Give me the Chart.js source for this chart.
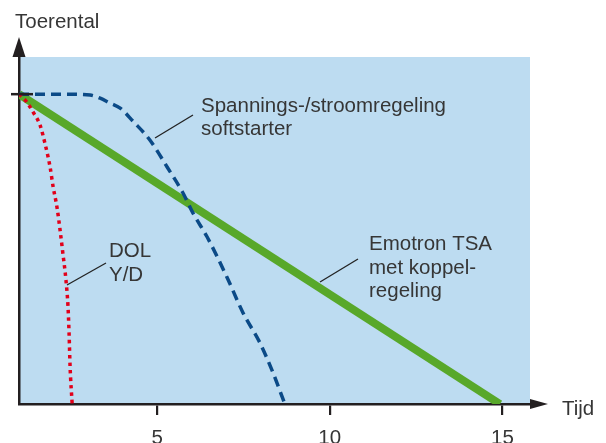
<!DOCTYPE html>
<html>
<head>
<meta charset="utf-8">
<script src="https://cdn.jsdelivr.net/npm/chart.js@4"></script>
<style>
  html, body { margin: 0; padding: 0; background: #ffffff; }
  #c { display: block; }
</style>
</head>
<body>
<canvas id="c" width="606" height="443"></canvas>
<script>
// ---- data (x = tijd, y = toerental in % of start value) ----
const xTicks = [5, 10, 15];
const yStartTick = 100;

const dolX = [1, 1.03, 1.23, 1.41, 1.61, 1.75, 1.9, 1.99, 2.1, 2.19, 2.27, 2.36, 2.42, 2.45, 2.48, 2.54];
const dolY = [100, 99.7, 97.4, 94.2, 90.0, 84.2, 76.5, 70.0, 63.5, 56.1, 48.7, 40.0, 31.3, 22.9, 11.9, 0];

const softX = [1, 2.19, 3.06, 3.35, 3.64, 3.93, 4.3, 4.79, 5.29, 5.75, 6.04, 6.45, 7.02, 7.49, 7.98, 8.36, 8.7];
const softY = [100, 100, 99.7, 98.7, 97.1, 95.5, 91.3, 85.2, 76.5, 68.1, 61.6, 53.9, 41.0, 29.4, 19.7, 10.0, 0];

const tsaX = [1, 14.93];
const tsaY = [100, 0];

const labels = {
  yTitle: 'Toerental',
  xTitle: 'Tijd',
  soft: ['Spannings-/stroomregeling', 'softstarter'],
  dol: ['DOL', 'Y/D'],
  tsa: ['Emotron TSA', 'met koppel-', 'regeling']
};

const pts = (xs, ys) => xs.map((x, i) => ({ x: x, y: ys[i] }));

const FONT = '20.5px "Liberation Sans", Arial, sans-serif';
const TEXT = '#363636';
const AXIS = '#231f20';
const BG = '#bddcf1';

const decor = {
  id: 'decor',
  beforeDraw(chart) {
    const a = chart.chartArea, ctx = chart.ctx;
    ctx.save();
    ctx.fillStyle = BG;
    ctx.fillRect(a.left, a.top, a.right - a.left, a.bottom - a.top);
    ctx.restore();
  },
  afterDraw(chart) {
    const a = chart.chartArea, ctx = chart.ctx;
    const ys = chart.scales.y;
    ctx.save();
    // arrows
    ctx.fillStyle = AXIS;
    ctx.beginPath();
    ctx.moveTo(a.left, a.top - 20);
    ctx.lineTo(a.left - 6.5, a.top);
    ctx.lineTo(a.left + 6.5, a.top);
    ctx.closePath();
    ctx.fill();
    ctx.beginPath();
    ctx.moveTo(a.right + 18, a.bottom);
    ctx.lineTo(a.right, a.bottom - 5);
    ctx.lineTo(a.right, a.bottom + 5);
    ctx.closePath();
    ctx.fill();
    // start speed tick crossing y axis
    const yp = ys.getPixelForValue(yStartTick);
    ctx.strokeStyle = AXIS;
    ctx.lineWidth = 2.5;
    ctx.beginPath();
    ctx.moveTo(a.left - 8, yp);
    ctx.lineTo(a.left + 14, yp);
    ctx.stroke();
    // leader lines
    ctx.lineWidth = 1.3;
    ctx.strokeStyle = '#222';
    const lines = [[155, 138, 193, 115], [67, 285, 106, 263], [320, 282, 358, 259]];
    lines.forEach(l => {
      ctx.beginPath();
      ctx.moveTo(l[0], l[1]);
      ctx.lineTo(l[2], l[3]);
      ctx.stroke();
    });
    // texts
    ctx.fillStyle = TEXT;
    ctx.font = FONT;
    ctx.textAlign = 'left';
    ctx.textBaseline = 'alphabetic';
    ctx.fillText(labels.yTitle, 15, 28);
    ctx.fillText(labels.xTitle, 562, 415);
    labels.soft.forEach((t, i) => ctx.fillText(t, 201, 112 + i * 23));
    labels.dol.forEach((t, i) => ctx.fillText(t, 109, 257 + i * 24));
    labels.tsa.forEach((t, i) => ctx.fillText(t, 369, 250 + i * 23.5));
    ctx.restore();
  }
};

new Chart(document.getElementById('c'), {
  type: 'line',
  data: {
    datasets: [
      {
        data: pts(dolX, dolY),
        borderColor: '#e2001a',
        borderWidth: 3.5,
        borderDash: [3.5, 4],
        pointRadius: 0,
        cubicInterpolationMode: 'monotone',
        fill: false,
        clip: 0
      },
      {
        data: pts(softX, softY),
        borderColor: '#0b4a87',
        borderWidth: 3.5,
        borderDash: [10, 6],
        pointRadius: 0,
        cubicInterpolationMode: 'monotone',
        fill: false,
        clip: 0
      },
      {
        data: pts(tsaX, tsaY),
        borderColor: '#58a82a',
        borderWidth: 8,
        borderCapStyle: 'butt',
        pointRadius: 0,
        tension: 0,
        fill: false,
        clip: 0
      }
    ]
  },
  options: {
    responsive: false,
    animation: false,
    events: [],
    layout: { padding: { top: 57, right: 76, left: 0, bottom: 0 } },
    plugins: { legend: { display: false }, tooltip: { enabled: false } },
    scales: {
      x: {
        type: 'linear',
        min: 1,
        max: 15.8,
        afterBuildTicks(scale) { scale.ticks = xTicks.map(v => ({ value: v })); },
        afterFit(scale) { scale.height = 39; },
        border: { display: true, color: AXIS, width: 2.5 },
        grid: { display: true, drawOnChartArea: false, drawTicks: true, tickLength: 11, color: AXIS, lineWidth: 2.2 },
        ticks: { color: TEXT, font: { family: '"Liberation Sans", Arial, sans-serif', size: 20.5 }, padding: 11, maxRotation: 0, autoSkip: false }
      },
      y: {
        type: 'linear',
        min: 0,
        max: 112,
        afterFit(scale) { scale.width = 19; },
        border: { display: true, color: AXIS, width: 2.5 },
        grid: { display: false },
        ticks: { display: false }
      }
    }
  },
  plugins: [decor]
});
</script>
</body>
</html>
